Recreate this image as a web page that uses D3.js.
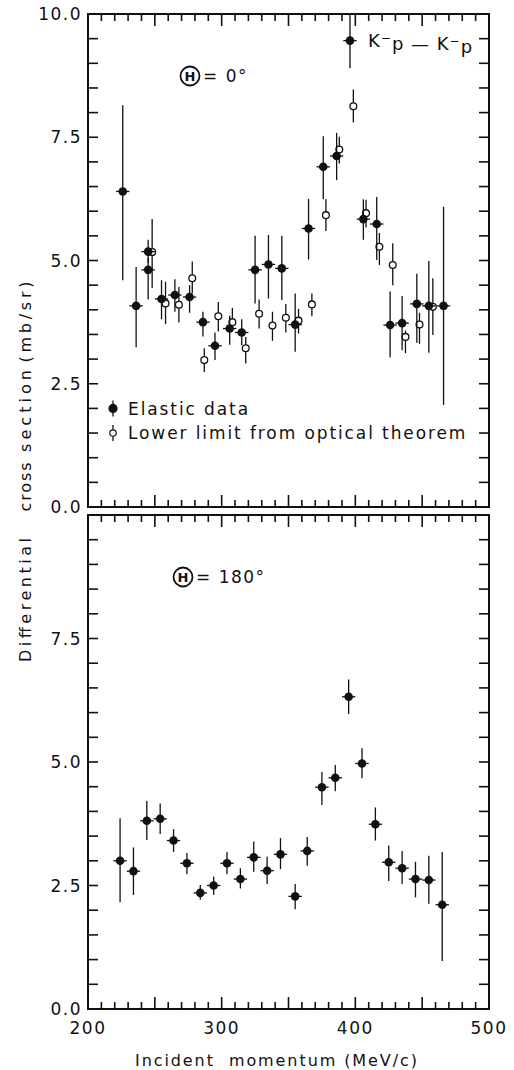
<!DOCTYPE html>
<html>
<head>
<meta charset="utf-8">
<script src="https://cdn.jsdelivr.net/npm/d3@7"></script>
<style>
  body { margin: 0; background: #fff; }
  text { font-family: "DejaVu Sans", sans-serif; fill: #111; }
</style>
</head>
<body>
<svg id="chart" width="514" height="1070"></svg>
<script>
// ---- data ----
// top panel (theta = 0), elastic data (filled)
let elasticX  = [226, 236, 245, 245, 255, 265, 276, 286, 295, 306, 315, 325, 335, 345, 355, 365, 376, 386, 396, 406, 416, 426, 435, 446, 455, 466]
let elasticY  = [6.40, 4.08, 5.18, 4.81, 4.22, 4.30, 4.26, 3.75, 3.27, 3.62, 3.54, 4.81, 4.92, 4.84, 3.70, 5.65, 6.90, 7.12, 9.46, 5.84, 5.74, 3.69, 3.73, 4.12, 4.08, 4.08]
let elasticHi = [8.15, 4.87, 5.42, 5.05, 4.60, 4.62, 4.50, 3.96, 3.54, 3.88, 3.81, 5.50, 5.52, 5.50, 4.33, 6.25, 7.52, 7.59, 9.98, 6.24, 6.29, 4.37, 4.28, 4.73, 4.99, 6.09]
let elasticLo = [4.60, 3.24, 4.95, 4.21, 3.81, 3.96, 3.94, 3.46, 2.98, 3.29, 3.28, 4.13, 4.23, 4.20, 3.15, 5.02, 6.24, 6.63, 8.90, 5.42, 5.01, 3.04, 3.18, 3.33, 3.13, 2.07]

// top panel, lower limit from optical theorem (open)
let opticalX  = [248, 258, 268, 278, 287, 297.5, 308, 318, 328, 338, 348, 357.5, 367.5, 378, 388, 398.5, 408, 418, 428, 437.5, 448, 458]
let opticalY  = [5.17, 4.13, 4.10, 4.64, 2.98, 3.87, 3.75, 3.22, 3.92, 3.68, 3.84, 3.78, 4.11, 5.92, 7.25, 8.13, 5.96, 5.28, 4.91, 3.45, 3.70, 4.06]
let opticalHi = [5.84, 4.57, 4.46, 4.98, 3.22, 4.16, 4.04, 3.45, 4.21, 3.96, 4.12, 4.02, 4.33, 6.24, 7.51, 8.47, 6.23, 5.56, 5.35, 3.58, 3.94, 4.64]
let opticalLo = [4.44, 3.71, 3.74, 4.33, 2.74, 3.56, 3.56, 2.91, 3.62, 3.37, 3.54, 3.52, 3.87, 5.60, 6.97, 7.80, 5.67, 4.91, 4.50, 3.12, 3.31, 3.49]

// bottom panel (theta = 180)
let backX  = [224, 234, 244, 254, 264, 274, 284, 294, 304, 314, 324, 334, 344, 355, 364, 375, 385, 395, 405, 415, 425, 435, 445, 455, 465]
let backY  = [3.00, 2.79, 3.81, 3.85, 3.41, 2.95, 2.35, 2.50, 2.95, 2.63, 3.07, 2.80, 3.13, 2.28, 3.20, 4.49, 4.68, 6.32, 4.97, 3.74, 2.97, 2.85, 2.63, 2.61, 2.11]
let backHi = [3.86, 3.27, 4.21, 4.16, 3.64, 3.16, 2.51, 2.68, 3.18, 2.85, 3.39, 3.08, 3.46, 2.53, 3.48, 4.80, 4.94, 6.67, 5.28, 4.08, 3.31, 3.20, 2.98, 3.10, 3.18]
let backLo = [2.16, 2.31, 3.42, 3.54, 3.18, 2.73, 2.21, 2.31, 2.73, 2.44, 2.78, 2.53, 2.83, 2.02, 2.90, 4.13, 4.41, 5.97, 4.67, 3.41, 2.59, 2.53, 2.26, 2.13, 0.97]

let xHalfWidth = 5   // MeV/c, horizontal bar on filled points
let yLabelsTop = [0, 2.5, 5, 7.5, 10]
let yLabelsBottom = [0, 2.5, 5, 7.5]
let xLabels = [200, 300, 400, 500]

// ---- layout ----
let left = 88, right = 489
let topPanel = {top: 14, bottom: 507}
let bottomPanel = {top: 515, bottom: 1009}

let svg = d3.select("#chart")
let xScale = d3.scaleLinear().domain([200, 500]).range([left, right])

function zip(xs, ys, his, los) {
    return xs.map((x, i) => ({x: x, y: ys[i], hi: his[i], lo: los[i]}))
}

function drawFrame(panel, yLabels) {
    let yScale = d3.scaleLinear().domain([0, 10]).range([panel.bottom, panel.top])
    let g = svg.append("g")

    g.append("rect")
        .attr("x", left).attr("y", panel.top)
        .attr("width", right - left).attr("height", panel.bottom - panel.top)
        .attr("fill", "none").attr("stroke", "#111").attr("stroke-width", 2)

    // y ticks every 0.5 on both sides, pointing in
    let yTicks = d3.range(0.5, 10, 0.5)
    g.selectAll(".ytl").data(yTicks).enter().append("line")
        .attr("x1", left).attr("x2", left + 10)
        .attr("y1", d => yScale(d)).attr("y2", d => yScale(d))
        .attr("stroke", "#111").attr("stroke-width", 1.6)
    g.selectAll(".ytr").data(yTicks).enter().append("line")
        .attr("x1", right).attr("x2", right - 10)
        .attr("y1", d => yScale(d)).attr("y2", d => yScale(d))
        .attr("stroke", "#111").attr("stroke-width", 1.6)

    // x ticks every 10, longer every 50
    let xTicks = d3.range(210, 500, 10)
    let tl = d => (d % 50 === 0 ? 12 : 7)
    g.selectAll(".xtt").data(xTicks).enter().append("line")
        .attr("x1", d => xScale(d)).attr("x2", d => xScale(d))
        .attr("y1", panel.top).attr("y2", d => panel.top + tl(d))
        .attr("stroke", "#111").attr("stroke-width", 1.6)
    g.selectAll(".xtb").data(xTicks).enter().append("line")
        .attr("x1", d => xScale(d)).attr("x2", d => xScale(d))
        .attr("y1", panel.bottom).attr("y2", d => panel.bottom - tl(d))
        .attr("stroke", "#111").attr("stroke-width", 1.6)

    g.selectAll(".ylab").data(yLabels).enter().append("text")
        .attr("x", left - 6)
        .attr("y", d => yScale(d))
        .attr("dy", "0.36em")
        .attr("text-anchor", "end")
        .style("font-size", "17px")
        .style("letter-spacing", "1.5px")
        .text(d => d3.format(".1f")(d))

    return yScale
}

function drawPoints(data, yScale, filled) {
    let g = svg.append("g")
    g.selectAll(".eb").data(data).enter().append("line")
        .attr("x1", d => xScale(d.x)).attr("x2", d => xScale(d.x))
        .attr("y1", d => yScale(d.hi)).attr("y2", d => yScale(d.lo))
        .attr("stroke", "#111").attr("stroke-width", 1.3)
    if (filled) {
        g.selectAll(".hb").data(data).enter().append("line")
            .attr("x1", d => xScale(d.x - xHalfWidth)).attr("x2", d => xScale(d.x + xHalfWidth))
            .attr("y1", d => yScale(d.y)).attr("y2", d => yScale(d.y))
            .attr("stroke", "#111").attr("stroke-width", 1.3)
        g.selectAll(".pt").data(data).enter().append("circle")
            .attr("cx", d => xScale(d.x)).attr("cy", d => yScale(d.y))
            .attr("r", 4.3).attr("fill", "#111")
    } else {
        g.selectAll(".pt").data(data).enter().append("circle")
            .attr("cx", d => xScale(d.x)).attr("cy", d => yScale(d.y))
            .attr("r", 3.4).attr("fill", "#fff")
            .attr("stroke", "#111").attr("stroke-width", 1.3)
    }
}

function thetaLabel(x, y, txt) {
    svg.append("circle").attr("cx", x).attr("cy", y).attr("r", 9.5)
        .attr("fill", "none").attr("stroke", "#111").attr("stroke-width", 1.8)
    svg.append("text").attr("x", x).attr("y", y).attr("dy", "0.36em")
        .attr("text-anchor", "middle").style("font-size", "13px").style("font-weight", "bold")
        .text("H")
    svg.append("text").attr("x", x + 13).attr("y", y).attr("dy", "0.36em")
        .style("font-size", "17px").style("letter-spacing", "1.5px")
        .attr("xml:space", "preserve")
        .text(txt)
}

// ---- top panel ----
let yTop = drawFrame(topPanel, yLabelsTop)
drawPoints(zip(opticalX, opticalY, opticalHi, opticalLo), yTop, false)
drawPoints(zip(elasticX, elasticY, elasticHi, elasticLo), yTop, true)

// ---- bottom panel ----
let yBottom = drawFrame(bottomPanel, yLabelsBottom)
drawPoints(zip(backX, backY, backHi, backLo), yBottom, true)

svg.selectAll(".xlab").data(xLabels).enter().append("text")
    .attr("x", d => xScale(d))
    .attr("y", bottomPanel.bottom + 19)
    .attr("dy", "0.36em")
    .attr("text-anchor", "middle")
    .style("font-size", "17px")
    .style("letter-spacing", "1.5px")
    .text(d => d)

// axis titles
svg.append("text")
    .attr("x", 276).attr("y", 1060).attr("dy", "0.36em")
    .attr("text-anchor", "middle")
    .attr("textLength", 282).attr("lengthAdjust", "spacing")
    .style("font-size", "16px")
    .attr("xml:space", "preserve")
    .text("Incident  momentum (MeV/c)")

// y title words: [text, centre y, length]
let yTitleWords = [["Differential", 600, 124], ["cross", 487, 49], ["section", 411, 82], ["(mb/sr)", 322, 81]]
yTitleWords.forEach(w => {
    svg.append("text")
        .attr("transform", "translate(25," + w[1] + ") rotate(-90)")
        .attr("dy", "0.36em")
        .attr("text-anchor", "middle")
        .attr("textLength", w[2]).attr("lengthAdjust", "spacing")
        .style("font-size", "16px")
        .text(w[0])
})

// annotations
thetaLabel(190, 76, "= 0°")
thetaLabel(183, 577, "= 180°")

let reac = svg.append("text").attr("x", 368).attr("y", 41).attr("dy", "0.36em")
    .style("font-size", "18px").style("letter-spacing", "1px")
reac.append("tspan").text("K")
reac.append("tspan").attr("dy", "-0.45em").style("font-size", "12px").text("\u2212")
reac.append("tspan").attr("dy", "0.45em").text("p \u2014 K")
reac.append("tspan").attr("dy", "-0.45em").style("font-size", "12px").text("\u2212")
reac.append("tspan").attr("dy", "0.45em").text("p")

// legend
let legend = svg.append("g")
let legendRows = [{y: 2.0, label: "Elastic data", filled: true},
                  {y: 1.5, label: "Lower limit from optical theorem", filled: false}]
legendRows.forEach(r => {
    let cy = yTop(r.y)
    legend.append("line").attr("x1", 113).attr("x2", 113)
        .attr("y1", cy - 8).attr("y2", cy + 8)
        .attr("stroke", "#111").attr("stroke-width", 1.3)
    legend.append("circle").attr("cx", 113).attr("cy", cy)
        .attr("r", r.filled ? 4 : 3.2)
        .attr("fill", r.filled ? "#111" : "#fff")
        .attr("stroke", "#111").attr("stroke-width", 1.2)
    legend.append("text").attr("x", 128).attr("y", cy).attr("dy", "0.36em")
        .style("font-size", "17px").style("letter-spacing", "1.9px")
        .text(r.label)
})
</script>
</body>
</html>
